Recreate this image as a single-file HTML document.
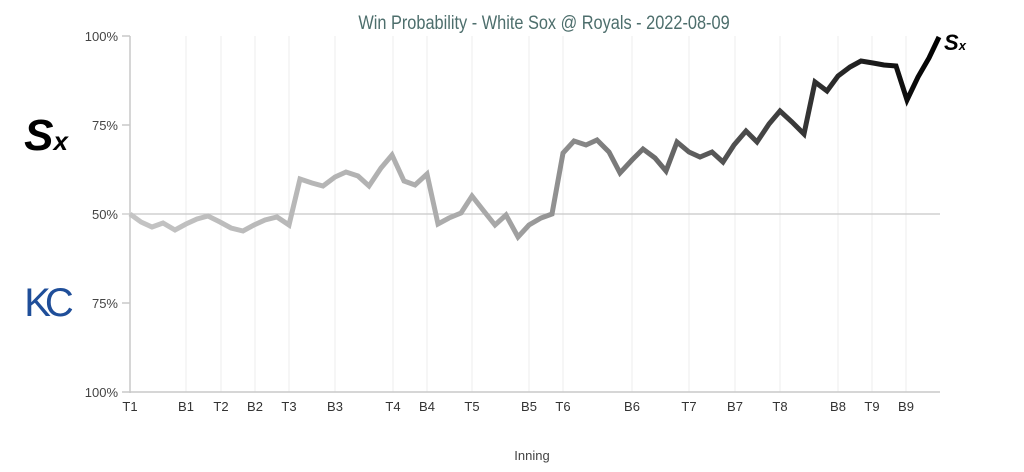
<!DOCTYPE html>
<html><head><meta charset="utf-8"><style>
html,body{margin:0;padding:0;background:#fff;width:1024px;height:472px;overflow:hidden}
text{font-family:"Liberation Sans",sans-serif}
</style></head><body>
<svg width="1024" height="472" viewBox="0 0 1024 472" xmlns="http://www.w3.org/2000/svg">
<defs>
<linearGradient id="g" gradientUnits="userSpaceOnUse" x1="130" y1="0" x2="940" y2="0">
<stop offset="0" stop-color="#c4c4c4"/>
<stop offset="0.45" stop-color="#a8a8a8"/>
<stop offset="0.6" stop-color="#7a7a7a"/>
<stop offset="0.85" stop-color="#303030"/>
<stop offset="1" stop-color="#000"/>
</linearGradient>
</defs>
<text x="544" y="29" text-anchor="middle" font-size="19" fill="#4d6e6c" transform="translate(544 0) scale(0.86 1) translate(-544 0)">Win Probability - White Sox @ Royals - 2022-08-09</text>
<g stroke="#eeeeee" stroke-width="1">
<line x1="186" y1="36" x2="186" y2="392"/><line x1="221" y1="36" x2="221" y2="392"/><line x1="255" y1="36" x2="255" y2="392"/><line x1="289" y1="36" x2="289" y2="392"/><line x1="335" y1="36" x2="335" y2="392"/><line x1="393" y1="36" x2="393" y2="392"/><line x1="427" y1="36" x2="427" y2="392"/><line x1="472" y1="36" x2="472" y2="392"/><line x1="529" y1="36" x2="529" y2="392"/><line x1="563" y1="36" x2="563" y2="392"/><line x1="632" y1="36" x2="632" y2="392"/><line x1="689" y1="36" x2="689" y2="392"/><line x1="735" y1="36" x2="735" y2="392"/><line x1="780" y1="36" x2="780" y2="392"/><line x1="838" y1="36" x2="838" y2="392"/><line x1="872" y1="36" x2="872" y2="392"/><line x1="906" y1="36" x2="906" y2="392"/>
</g>
<line x1="122" y1="214" x2="940" y2="214" stroke="#c8c8c8" stroke-width="1.2"/>
<g stroke="#c8c8c8" stroke-width="1.5">
<line x1="130" y1="36" x2="130" y2="393"/><line x1="130" y1="392" x2="940" y2="392"/>
<line x1="122" y1="36" x2="130" y2="36"/><line x1="122" y1="125" x2="130" y2="125"/><line x1="122" y1="303" x2="130" y2="303"/><line x1="122" y1="392" x2="130" y2="392"/>
</g>
<g font-size="13" fill="#444" text-anchor="end">
<text x="118" y="41">100%</text><text x="118" y="130">75%</text><text x="118" y="219">50%</text><text x="118" y="308">75%</text><text x="118" y="397">100%</text>
</g>
<g font-size="13" fill="#333" text-anchor="middle">
<text x="130" y="411">T1</text><text x="186" y="411">B1</text><text x="221" y="411">T2</text><text x="255" y="411">B2</text><text x="289" y="411">T3</text><text x="335" y="411">B3</text><text x="393" y="411">T4</text><text x="427" y="411">B4</text><text x="472" y="411">T5</text><text x="529" y="411">B5</text><text x="563" y="411">T6</text><text x="632" y="411">B6</text><text x="689" y="411">T7</text><text x="735" y="411">B7</text><text x="780" y="411">T8</text><text x="838" y="411">B8</text><text x="872" y="411">T9</text><text x="906" y="411">B9</text>
<text x="532" y="460" fill="#444">Inning</text>
</g>
<polyline fill="none" stroke="url(#g)" stroke-width="5" stroke-linejoin="miter" points="130,214 141,222 152,227 163,223 175,230 186,224 197,219 208,216 220,222 231,228 243,231 254,225 265,220 277,217 289,225 300,179 312,183 323,186 335,177 346,172 358,176 369,186 381,168 392,155 404,181 415,185 427,174 438,224 449,218 461,213 472,196 483,210 495,225 506,215 518,237 529,225 541,218 552,214 563,153 574,141 586,145 597,140 609,152 620,173 632,160 643,149 655,158 666,171 677,142 689,152 700,157 712,152 723,162 734,145 746,131 757,142 769,124 780,111 792,122 804,134 815,82 827,91 838,76 850,67 861,61 873,63 884,65 896,66 907,100 918,77 929,58 939,37"/>
<text x="46" y="150" font-size="44" font-weight="bold" font-family="Liberation Serif,serif" text-anchor="middle" fill="#000" font-style="italic">S<tspan font-size="26">x</tspan></text>
<text x="955" y="50" font-size="22" font-weight="bold" font-family="Liberation Serif,serif" text-anchor="middle" fill="#000" font-style="italic">S<tspan font-size="13">x</tspan></text>
<text x="46" y="316" font-size="40" font-family="Liberation Serif,serif" text-anchor="middle" fill="#1f4e99" letter-spacing="-6">KC</text>
</svg>
</body></html>
